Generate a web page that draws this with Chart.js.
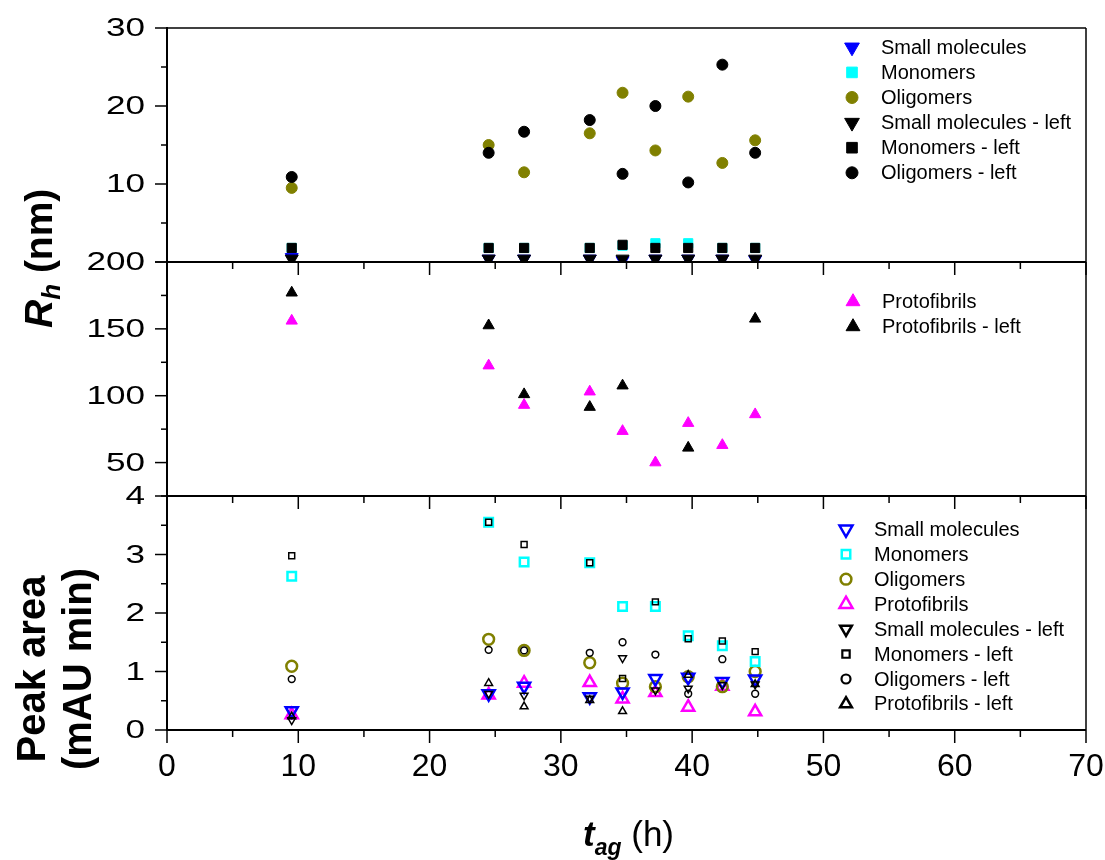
<!DOCTYPE html>
<html>
<head>
<meta charset="utf-8">
<script src="https://cdn.jsdelivr.net/npm/chart.js@4.4.1/dist/chart.umd.min.js"></script>
<style>
html,body{margin:0;padding:0;background:#fff;}
canvas{display:block;}
</style>
</head>
<body>
<canvas id="c" width="1105" height="860"></canvas>
<script>
// ---------------- DATA ----------------
const tAg = [9.5, 24.5, 27.2, 32.2, 34.7, 37.2, 39.7, 42.3, 44.8];

// Rh (nm), upper panel
const rhSmall      = [0.6, 0.4, 0.4, 0.4, 0.2, 0.4, 0.4, 0.4, 0.3];
const rhMono       = [1.8, 1.8, 1.8, 1.8, 2.1, 2.4, 2.4, 1.8, 1.8];
const rhOlig       = [9.5, 15.0, 11.5, 16.5, 21.7, 14.3, 21.2, 12.7, 15.6];
const rhSmallLeft  = [0.4, 0.4, 0.4, 0.4, 0.4, 0.4, 0.4, 0.4, 0.4];
const rhMonoLeft   = [1.8, 1.8, 1.8, 1.8, 2.2, 1.8, 1.8, 1.8, 1.8];
const rhOligLeft   = [10.9, 14.0, 16.7, 18.2, 11.3, 20.0, 10.2, 25.3, 14.0];

// Rh (nm), middle panel
const rhProto      = [156, 122.5, 93, 103, 73.5, 50, 79.5, 63, 86];
const rhProtoLeft  = [177, 152.5, 101, 91.5, 107.5, null, 61, null, 157.5];

// Peak area (mAU min), lower panel
const paSmall      = [0.33, 0.62, 0.75, 0.57, 0.65, 0.88, 0.90, 0.83, 0.87];
const paMono       = [2.63, 3.55, 2.87, 2.86, 2.11, 2.11, 1.61, 1.44, 1.17];
const paOlig       = [1.09, 1.55, 1.36, 1.15, 0.80, 0.74, 0.91, 0.74, 1.00];
const paProto      = [0.26, 0.60, 0.80, 0.81, 0.53, 0.64, 0.39, 0.75, 0.31];
const paSmallLeft  = [0.17, 0.62, 0.59, 0.54, 1.23, 0.68, 0.71, 0.77, 0.78];
const paMonoLeft   = [2.98, 3.55, 3.17, 2.86, 0.88, 2.19, 1.56, 1.52, 1.34];
const paOligLeft   = [0.87, 1.37, 1.36, 1.32, 1.50, 1.29, 0.62, 1.21, 0.62];
const paProtoLeft  = [0.23, 0.80, 0.40, 0.51, 0.32, null, 0.94, null, 0.78];

// tick labels
const xTickLabels   = [0, 10, 20, 30, 40, 50, 60, 70];
const yTopLabels    = [10, 20, 30];
const yMidLabels    = [50, 100, 150, 200];
const yBotLabels    = [0, 1, 2, 3, 4];

// ---------------- STYLE ----------------
const FONT = "'Liberation Sans', Arial, Helvetica, sans-serif";
const BLUE = '#0000ff', CYAN = '#00ffff', OLIVE = '#808000', MAG = '#ff00ff', BLK = '#000000';
const CLEAR = 'rgba(0,0,0,0)';

function pts(vals) {
  const out = [];
  vals.forEach((v, i) => { if (v !== null && v !== undefined) out.push({x: tAg[i], y: v}); });
  return out;
}
function ds(label, vals, yAxisID, st) {
  return {
    label, yAxisID, xAxisID: 'x', data: pts(vals), showLine: false, clip: 0,
    order: st.order,
    pointStyle: st.ps, pointRadius: st.r, pointRotation: st.rot || 0,
    pointBorderWidth: st.lw, pointBackgroundColor: st.fill, pointBorderColor: st.stroke,
    legendRadius: st.lr || st.r, legendLineWidth: st.llw || st.lw
  };
}

const datasets = [
  // top panel (filled)
  ds('Small molecules', rhSmall, 'yTop', {ps:'triangle', rot:180, r:7.5, lr:8.5, lw:1, fill:BLUE, stroke:BLUE, order:1}),
  ds('Monomers', rhMono, 'yTop', {ps:'rect', r:6.5, lr:7.5, lw:1, fill:CYAN, stroke:CYAN, order:1}),
  ds('Oligomers', rhOlig, 'yTop', {ps:'circle', r:5.5, lr:6, lw:1, fill:OLIVE, stroke:OLIVE, order:1}),
  ds('Small molecules - left', rhSmallLeft, 'yTop', {ps:'triangle', rot:180, r:7.5, lr:8.5, lw:1, fill:BLK, stroke:BLK, order:0}),
  ds('Monomers - left', rhMonoLeft, 'yTop', {ps:'rect', r:6.5, lr:7.5, lw:1, fill:BLK, stroke:BLK, order:0}),
  ds('Oligomers - left', rhOligLeft, 'yTop', {ps:'circle', r:5.5, lr:6, lw:1, fill:BLK, stroke:BLK, order:0}),
  // middle panel (filled)
  ds('Protofibrils', rhProto, 'yMid', {ps:'triangle', r:6.5, lr:8, lw:1, fill:MAG, stroke:MAG, order:1}),
  ds('Protofibrils - left', rhProtoLeft, 'yMid', {ps:'triangle', r:6.5, lr:8, lw:1, fill:BLK, stroke:BLK, order:0}),
  // bottom panel (open)
  ds('Small molecules', paSmall, 'yBot', {ps:'triangle', rot:180, r:7, lr:7.5, lw:2.5, fill:CLEAR, stroke:BLUE, order:1}),
  ds('Monomers', paMono, 'yBot', {ps:'rect', r:6, lw:2.5, fill:CLEAR, stroke:CYAN, order:1}),
  ds('Oligomers', paOlig, 'yBot', {ps:'circle', r:5.4, lw:2.5, fill:CLEAR, stroke:OLIVE, order:1}),
  ds('Protofibrils', paProto, 'yBot', {ps:'triangle', r:7, lr:7.5, lw:2.5, fill:CLEAR, stroke:MAG, order:1}),
  ds('Small molecules - left', paSmallLeft, 'yBot', {ps:'triangle', rot:180, r:4.5, lr:6.8, lw:1.5, llw:2.5, fill:CLEAR, stroke:BLK, order:0}),
  ds('Monomers - left', paMonoLeft, 'yBot', {ps:'rect', r:4.2, lr:5.2, lw:1.5, llw:2.2, fill:CLEAR, stroke:BLK, order:0}),
  ds('Oligomers - left', paOligLeft, 'yBot', {ps:'circle', r:3.4, lr:4.5, lw:1.5, llw:2.2, fill:CLEAR, stroke:BLK, order:0}),
  ds('Protofibrils - left', paProtoLeft, 'yBot', {ps:'triangle', r:4.5, lr:6.8, lw:1.5, llw:2.5, fill:CLEAR, stroke:BLK, order:0})
];

// legend groups (dataset indices and placement)
const legendGroups = [
  {items:[0,1,2,3,4,5], sx:852, tx:881, y0:47.3, dy:25.1},
  {items:[6,7], sx:853, tx:882, y0:301.7, dy:25},
  {items:[8,9,10,11,12,13,14,15], sx:846, tx:874, y0:529.3, dy:24.95}
];

function markerFallback(ctx, o, x, y) {
  const r = o.radius, rad = (o.rotation || 0) * Math.PI / 180;
  ctx.beginPath();
  if (o.pointStyle === 'circle') ctx.arc(x, y, r, 0, Math.PI * 2);
  else if (o.pointStyle === 'rect') { const s = Math.SQRT1_2 * r; ctx.rect(x - s, y - s, 2 * s, 2 * s); }
  else {
    let a = rad;
    ctx.moveTo(x + Math.sin(a) * r, y - Math.cos(a) * r);
    a += 2 * Math.PI / 3; ctx.lineTo(x + Math.sin(a) * r, y - Math.cos(a) * r);
    a += 2 * Math.PI / 3; ctx.lineTo(x + Math.sin(a) * r, y - Math.cos(a) * r);
    ctx.closePath();
  }
  ctx.fill();
  if (o.borderWidth > 0) ctx.stroke();
}
const drawMarker = (Chart.helpers && Chart.helpers.drawPoint) ? Chart.helpers.drawPoint : markerFallback;

function line(ctx, x1, y1, x2, y2, w) {
  ctx.beginPath(); ctx.lineWidth = w; ctx.moveTo(x1, y1); ctx.lineTo(x2, y2); ctx.stroke();
}

function richText(ctx, parts) {
  let x = 0;
  parts.forEach(p => {
    ctx.font = p.font;
    ctx.fillText(p.text, x, p.dy || 0);
    x += ctx.measureText(p.text).width;
  });
  return x;
}

const framePlugin = {
  id: 'frame',
  afterDraw(chart) {
    const ctx = chart.ctx, ca = chart.chartArea, xs = chart.scales.x;
    const yT = chart.scales.yTop, yM = chart.scales.yMid, yB = chart.scales.yBot;
    ctx.save();
    ctx.strokeStyle = '#000'; ctx.lineCap = 'butt';
    // frame
    line(ctx, ca.left, ca.top, ca.right, ca.top, 1.5);
    line(ctx, ca.right, ca.top, ca.right, ca.bottom, 1.5);
    line(ctx, ca.left, ca.top - 1, ca.left, ca.bottom + 1, 2);
    // x axes at bottom of each panel
    [yT.bottom, yM.bottom, yB.bottom].forEach(yy => {
      line(ctx, ca.left - 1, yy, ca.right, yy, 2);
      for (let v = xs.min; v <= xs.max + 1e-9; v += 5) {
        const px = xs.getPixelForValue(v);
        const len = (Math.round(v) % 10 === 0) ? 13 : 7;
        line(ctx, px, yy, px, yy + len, 1.5);
      }
    });
    // y ticks
    const yDefs = [
      {s: yT, minor: 5, major: 10, labels: yTopLabels},
      {s: yM, minor: 25, major: 50, labels: yMidLabels},
      {s: yB, minor: 0.5, major: 1, labels: yBotLabels}
    ];
    yDefs.forEach(d => {
      for (let v = d.s.min; v <= d.s.max + 1e-9; v += d.minor) {
        const py = d.s.getPixelForValue(v);
        const isMajor = Math.abs(v / d.major - Math.round(v / d.major)) < 1e-6;
        line(ctx, ca.left - (isMajor ? 12 : 6), py, ca.left, py, 1.5);
      }
    });
    // y tick labels (wide digits as in the reference)
    ctx.fillStyle = '#000';
    ctx.font = '26px ' + FONT;
    ctx.textAlign = 'right'; ctx.textBaseline = 'middle';
    yDefs.forEach(d => {
      d.labels.forEach(v => {
        const py = d.s.getPixelForValue(v);
        ctx.save();
        ctx.translate(145, py + 1);
        ctx.scale(1.35, 1);
        ctx.fillText(String(v), 0, 0);
        ctx.restore();
      });
    });

    // legends
    ctx.textAlign = 'left'; ctx.textBaseline = 'middle';
    legendGroups.forEach(g => {
      g.items.forEach((idx, k) => {
        const d = chart.data.datasets[idx];
        const y = g.y0 + k * g.dy;
        ctx.fillStyle = d.pointBackgroundColor;
        ctx.strokeStyle = d.pointBorderColor;
        ctx.lineWidth = d.legendLineWidth;
        drawMarker(ctx, {pointStyle: d.pointStyle, radius: d.legendRadius, rotation: d.pointRotation, borderWidth: d.legendLineWidth}, g.sx, y);
        ctx.fillStyle = '#000';
        ctx.font = '20px ' + FONT;
        ctx.fillText(d.label, g.tx, y + 1);
      });
    });

    // axis titles
    ctx.fillStyle = '#000';
    ctx.textAlign = 'left'; ctx.textBaseline = 'alphabetic';
    // R_h (nm)
    ctx.save();
    ctx.translate(52, 328);
    ctx.rotate(-Math.PI / 2);
    richText(ctx, [
      {text: 'R', font: 'italic bold 39px ' + FONT},
      {text: 'h', font: 'italic bold 26px ' + FONT, dy: 8},
      {text: ' (nm)', font: 'bold 39px ' + FONT}
    ]);
    ctx.restore();
    // Peak area (mAU min)
    ctx.font = 'bold 40px ' + FONT;
    ctx.textAlign = 'center';
    ctx.save(); ctx.translate(45, 669); ctx.rotate(-Math.PI / 2); ctx.fillText('Peak area', 0, 0); ctx.restore();
    ctx.save(); ctx.translate(91, 669); ctx.rotate(-Math.PI / 2); ctx.fillText('(mAU min)', 0, 0); ctx.restore();
    // t_ag (h)
    ctx.textAlign = 'left';
    ctx.save();
    ctx.translate(583, 846);
    richText(ctx, [
      {text: 't', font: 'italic bold 35px ' + FONT},
      {text: 'ag', font: 'italic bold 23px ' + FONT, dy: 9},
      {text: ' (h)', font: '35px ' + FONT}
    ]);
    ctx.restore();
    ctx.restore();
  }
};

const yCommon = {
  type: 'linear', position: 'left', stack: 'panels', stackWeight: 1, offset: false,
  grid: {display: false}, border: {display: false},
  ticks: {display: false},
  afterFit(s) { s.width = 167; }
};

new Chart(document.getElementById('c'), {
  type: 'scatter',
  data: {datasets},
  options: {
    responsive: false, animation: false, events: [],
    layout: {padding: {left: 0, top: 28, right: 19, bottom: 0}},
    plugins: {legend: {display: false}, tooltip: {enabled: false}, title: {display: false}},
    scales: {
      x: {
        type: 'linear', position: 'bottom', min: 0, max: 70,
        afterBuildTicks(s) { s.ticks = xTickLabels.map(v => ({value: v})); },
        ticks: {color: '#000', padding: 0, maxRotation: 0, autoSkip: false, font: {family: FONT, size: 32}},
        grid: {display: true, drawOnChartArea: false, drawTicks: true, tickLength: 18, color: CLEAR, tickColor: CLEAR},
        border: {display: false},
        afterFit(s) { s.height = 130; }
      },
      yBot: Object.assign({}, yCommon, {weight: 1, min: 0, max: 4}),
      yMid: Object.assign({}, yCommon, {weight: 2, min: 25, max: 200}),
      yTop: Object.assign({}, yCommon, {weight: 3, min: 0, max: 30})
    }
  },
  plugins: [framePlugin]
});
</script>
</body>
</html>
